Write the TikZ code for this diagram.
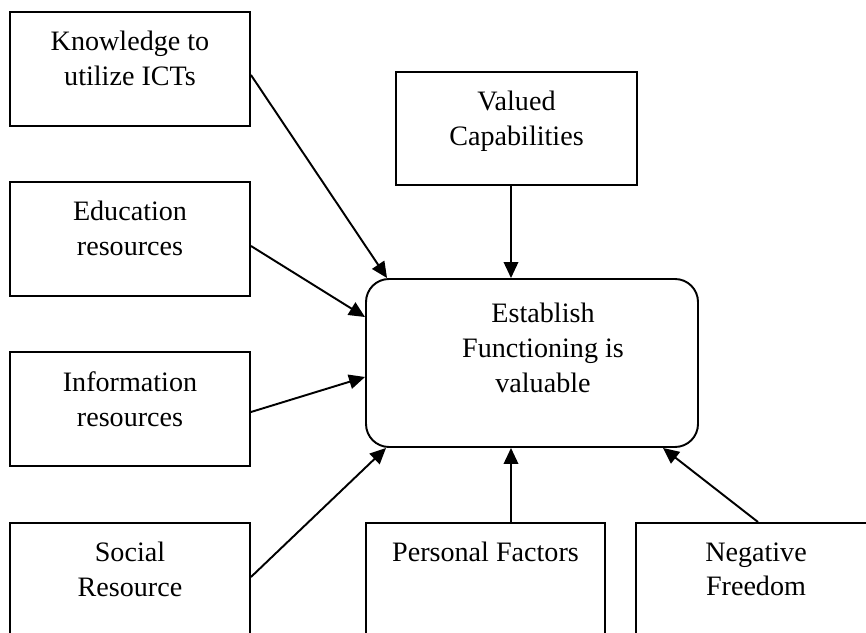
\documentclass[tikz,border=0pt]{standalone}
\usepackage{fontspec}
\setmainfont{Liberation Serif}
\usetikzlibrary{positioning,calc,arrows.meta}

\tikzset{
    box/.style = {draw, line width = 1.1pt, minimum width = 4.8cm, minimum height = 2.28cm, inner sep = 0},
    boxtext/.style = {align = center, inner sep = 0, font = \fontsize{16}{19.9}\selectfont},
    link/.style = {line width = 1.1pt, -{Triangle[length = 0.32cm, width = 0.29cm]}}
}

\begin{document}
\begin{tikzpicture}
            \clip (0,0) rectangle (17.32,12.64);
            \fill[white] (0,0) rectangle (17.32,12.64);
            % left column
            \node[box] (know) at (2.6,11.26) {};
            \node[box] (edu) at (2.6,7.86) {};
            \node[box] (info) at (2.6,4.46) {};
            \node[box] (soc) at (2.6,1.04) {};
            % bottom row
            \node[box, minimum width = 4.78cm] (pers) at (9.71,1.04) {};
            \node[box] (neg) at (15.12,1.04) {};
            % top and centre
            \node[box, minimum width = 4.82cm, minimum height = 2.26cm] (val) at (10.33,10.07) {};
            \node[box, rounded corners = 0.46cm, minimum width = 6.64cm, minimum height = 3.36cm] (est) at (10.64,5.38) {};
            \begin{scope}[every node/.append style = {boxtext}]
                \node[below = 0.4 of know.north] (know-t) {Knowledge to\\utilize ICTs};
                \node[below = 0.4 of edu.north] (edu-t) {Education\\resources};
                \node[below = 0.4 of info.north] (info-t) {Information\\resources};
                \node[below = 0.4 of soc.north] (soc-t) {Social\\Resource};
                \node[below = 0.4 of pers.north] (pers-t) {Personal Factors};
                \node[below = 0.4 of neg.north] (neg-t) {Negative\\Freedom};
                \node[below = 0.4 of val.north] (val-t) {Valued\\Capabilities};
                \node[below = 0.5 of est.north, xshift = 0.22cm] (est-t) {Establish\\Functioning is\\valuable};
            \end{scope}
            \draw[link] ($(know.east)+(0,-0.12)$) -- ($(est.north west)+(0.44,0)$);
            \draw[link] ($(edu.east)+(0,-0.14)$) -- ($(est.north west)+(0,-0.78)$);
            \draw[link] ($(info.east)+(0,-0.06)$) -- ($(est.west)+(0,-0.28)$);
            \draw[link] ($(soc.east)+(0,0.06)$) -- ($(est.south west)+(0.42,0)$);
            \draw[link] ($(pers.north)+(0.51,0)$) -- ($(est.south)+(-0.42,0)$);
            \draw[link] ($(neg.north)+(0.04,0)$) -- ($(est.south east)+(-0.72,0)$);
            \draw[link] ($(val.south)+(-0.11,0)$) -- ($(est.north)+(-0.42,0)$);
\end{tikzpicture}
\end{document}
